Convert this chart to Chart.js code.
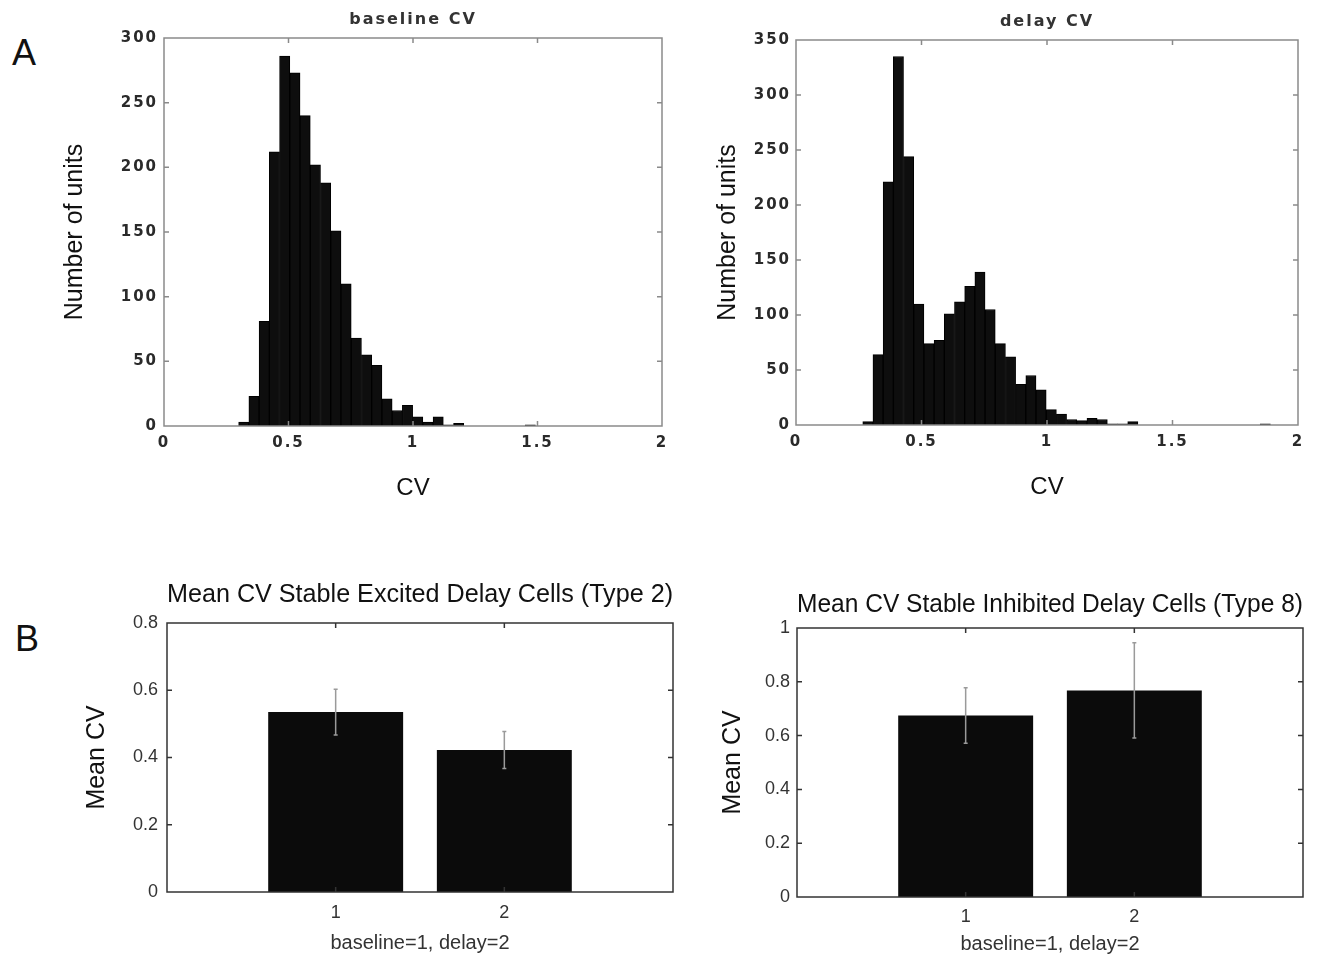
<!DOCTYPE html>
<html lang="en">
<head>
<meta charset="UTF-8" />
<title>CV distributions, baseline vs delay</title>
<style>
  body { margin: 0; background: #fff; }
  .figure { position: relative; width: 1336px; height: 956px; overflow: hidden; background: #fff; }
  .figure canvas { position: absolute; }
  .panel-letter {
    position: absolute;
    font-family: 'Liberation Sans', Arial, sans-serif;
    font-size: 36px;
    color: #111;
  }
</style>
</head>
<body>
<div class="figure">
  <div class="panel-letter" style="left:12px; top:32px;">A</div>
  <div class="panel-letter" style="left:15px; top:618px;">B</div>
  <canvas id="baseline-hist" width="700" height="520" style="left:0; top:0;"></canvas>
  <canvas id="delay-hist" width="686" height="520" style="left:650px; top:0;"></canvas>
  <canvas id="excited-bars" width="700" height="411" style="left:0; top:545px;"></canvas>
  <canvas id="inhibited-bars" width="686" height="411" style="left:650px; top:545px;"></canvas>
</div>

<script src="https://cdn.jsdelivr.net/npm/chart.js"></script>
<script>
  // histogram bin centres (CV) and unit counts
  const baselineBins = [0.3203, 0.3614, 0.4025, 0.4436, 0.4847, 0.5258, 0.5669, 0.6080, 0.6491, 0.6902,
    0.7313, 0.7724, 0.8135, 0.8546, 0.8957, 0.9368, 0.9779, 1.0190, 1.0601, 1.1012, 1.1423, 1.1834, 1.4711];
  const baselineCounts = [3, 23, 81, 212, 286, 273, 240, 202, 188, 151,
    110, 68, 55, 47, 21, 12, 16, 7, 3, 7, 1, 2, 1];

  const delayBins = [0.2863, 0.3269, 0.3675, 0.4081, 0.4487, 0.4893, 0.5299, 0.5705, 0.6111, 0.6517,
    0.6923, 0.7329, 0.7735, 0.8141, 0.8547, 0.8953, 0.9359, 0.9765, 1.0171, 1.0577,
    1.0983, 1.1389, 1.1795, 1.2201, 1.2607, 1.3013, 1.3419, 1.8697];
  const delayCounts = [3, 64, 221, 335, 244, 110, 74, 77, 101, 112,
    126, 139, 105, 74, 62, 37, 45, 32, 14, 10,
    5, 4, 6, 5, 1, 1, 3, 1];

  // mean CV per condition (baseline=1, delay=2) with error half-lengths
  const conditions = [1, 2];
  const excitedMeans = [0.535, 0.422];
  const excitedErr = [0.068, 0.055];
  const inhibitedMeans = [0.675, 0.768];
  const inhibitedErr = [0.103, 0.177];

  const sansFont = "'Liberation Sans', Arial, sans-serif";
  const tickFontBold = "'DejaVu Sans', sans-serif";
  const narrowFont = "'Liberation Sans Narrow', 'Arial Narrow', 'Liberation Sans', sans-serif";

  // plain number labels: 1 rather than 1.0
  const plainNumber = v => String(Number(Number(v).toFixed(3)));

  // box around the plot area with inward tick marks on all four sides, plus optional error bars.
  // tick labels and the chart title get letter spacing; axis titles (drawn later, grid z=1) do not.
  const boxAxes = {
    id: 'boxAxes',
    beforeDraw(chart, args, opts) {
      chart.ctx.letterSpacing = opts.spacing || '0px';
    },
    afterDatasetsDraw(chart, args, opts) {
      const { ctx, chartArea: a, scales: { x, y } } = chart;
      ctx.save();
      ctx.letterSpacing = '0px';

      if (opts.err) {
        ctx.strokeStyle = '#9a9a9a';
        ctx.lineWidth = 1.5;
        chart.data.datasets[0].data.forEach((pt, i) => {
          const px = x.getPixelForValue(pt.x);
          const hi = y.getPixelForValue(pt.y + opts.err[i]);
          const lo = y.getPixelForValue(pt.y - opts.err[i]);
          ctx.beginPath();
          ctx.moveTo(px, hi); ctx.lineTo(px, lo);
          ctx.moveTo(px - 2, hi); ctx.lineTo(px + 2, hi);
          ctx.moveTo(px - 2, lo); ctx.lineTo(px + 2, lo);
          ctx.stroke();
        });
      }

      ctx.strokeStyle = opts.color;
      ctx.lineWidth = opts.width;
      ctx.strokeRect(a.left, a.top, a.right - a.left, a.bottom - a.top);

      const len = opts.len;
      ctx.beginPath();
      x.ticks.forEach(t => {
        const px = x.getPixelForValue(t.value);
        if (px <= a.left + 1 || px >= a.right - 1) return;
        ctx.moveTo(px, a.bottom); ctx.lineTo(px, a.bottom - len);
        ctx.moveTo(px, a.top); ctx.lineTo(px, a.top + len);
      });
      y.ticks.forEach(t => {
        const py = y.getPixelForValue(t.value);
        if (py <= a.top + 1 || py >= a.bottom - 1) return;
        ctx.moveTo(a.left, py); ctx.lineTo(a.left + len, py);
        ctx.moveTo(a.right, py); ctx.lineTo(a.right - len, py);
      });
      ctx.stroke();
      ctx.restore();
      ctx.letterSpacing = '0px';
    }
  };

  function histogram(id, title, bins, counts, yMax, L) {
    new Chart(document.getElementById(id), {
      type: 'bar',
      data: {
        datasets: [{
          data: bins.map((b, i) => ({ x: b, y: counts[i] })),
          backgroundColor: '#0e0e0e',
          borderColor: '#000',
          borderWidth: 1,
          barPercentage: 1,
          categoryPercentage: 1
        }]
      },
      options: {
        responsive: false,
        animation: false,
        events: [],
        layout: { padding: { left: 0, right: L.padRight, top: 0, bottom: 0 } },
        plugins: {
          legend: { display: false },
          tooltip: { enabled: false },
          title: {
            display: true,
            text: title,
            fullSize: false,
            color: '#333',
            font: { family: tickFontBold, size: 16, weight: 'bold', lineHeight: 1.2 },
            padding: { top: L.titleTop, bottom: L.titleBottom }
          },
          boxAxes: { color: '#8a8a8a', width: 1.5, len: 5, spacing: '2px' }
        },
        scales: {
          x: {
            type: 'linear',
            min: 0, max: 2,
            offset: false,
            grid: { display: false, drawTicks: false, offset: false, z: 1 },
            border: { display: false },
            ticks: {
              stepSize: 0.5,
              padding: 8,
              maxRotation: 0,
              color: '#2a2a2a',
              callback: plainNumber,
              font: { family: tickFontBold, size: 15, weight: 'bold', lineHeight: 1.2 }
            },
            title: {
              display: true,
              text: 'CV',
              color: '#111',
              font: { family: sansFont, size: 24, lineHeight: 1.2 },
              padding: { top: 0, bottom: L.xTitlePad }
            },
            afterFit: s => { s.height = L.xHeight; }
          },
          y: {
            min: 0, max: yMax,
            grid: { display: false, drawTicks: false, z: 1 },
            border: { display: false },
            ticks: {
              stepSize: 50,
              padding: L.yTickPad,
              color: '#2a2a2a',
              callback: plainNumber,
              font: { family: tickFontBold, size: 15, weight: 'bold', lineHeight: 1.2 }
            },
            title: {
              display: true,
              text: 'Number of units',
              color: '#111',
              font: { family: sansFont, size: 25, lineHeight: 1.2 },
              padding: { top: L.yTitlePad, bottom: 0 }
            },
            afterFit: s => { s.width = L.yWidth; }
          }
        }
      },
      plugins: [boxAxes]
    });
  }

  function meanBars(id, title, means, err, yMax, L) {
    new Chart(document.getElementById(id), {
      type: 'bar',
      data: {
        datasets: [{
          data: conditions.map((c, i) => ({ x: c, y: means[i] })),
          backgroundColor: '#0b0b0b',
          borderWidth: 0,
          barPercentage: 0.8,
          categoryPercentage: 1
        }]
      },
      options: {
        responsive: false,
        animation: false,
        events: [],
        layout: { padding: { left: 0, right: L.padRight, top: 0, bottom: 0 } },
        plugins: {
          legend: { display: false },
          tooltip: { enabled: false },
          title: {
            display: true,
            text: title,
            fullSize: false,
            color: '#111',
            font: { family: sansFont, size: 26, weight: 'normal', lineHeight: 1.2 },
            padding: { top: L.titleTop, bottom: L.titleBottom }
          },
          boxAxes: { color: '#333', width: 1.5, len: 5, err: err }
        },
        scales: {
          x: {
            type: 'linear',
            min: 0, max: 3,
            offset: false,
            grid: { display: false, drawTicks: false, offset: false },
            border: { display: false },
            afterBuildTicks: s => { s.ticks = conditions.map(v => ({ value: v })); },
            ticks: {
              padding: L.xTickPad,
              maxRotation: 0,
              color: '#333',
              callback: plainNumber,
              font: { family: narrowFont, size: 18, lineHeight: 1.2 }
            },
            title: {
              display: true,
              text: 'baseline=1, delay=2',
              color: '#333',
              font: { family: narrowFont, size: 20, lineHeight: 1.2 },
              padding: { top: 0, bottom: L.xTitlePad }
            },
            afterFit: s => { s.height = L.xHeight; }
          },
          y: {
            min: 0, max: yMax,
            grid: { display: false, drawTicks: false },
            border: { display: false },
            ticks: {
              stepSize: 0.2,
              padding: L.yTickPad,
              color: '#333',
              callback: plainNumber,
              font: { family: narrowFont, size: 18, lineHeight: 1.2 }
            },
            title: {
              display: true,
              text: 'Mean CV',
              color: '#111',
              font: { family: sansFont, size: 25, lineHeight: 1.2 },
              padding: { top: L.yTitlePad, bottom: 0 }
            },
            afterFit: s => { s.width = L.yWidth; }
          }
        }
      },
      plugins: [boxAxes]
    });
  }

  histogram('baseline-hist', 'baseline CV', baselineBins, baselineCounts, 300, {
    padRight: 38, titleTop: 10.4, titleBottom: 8.4,
    yWidth: 164, yTitlePad: 60, yTickPad: 6,
    xHeight: 94, xTitlePad: 17.6
  });

  histogram('delay-hist', 'delay CV', delayBins, delayCounts, 350, {
    padRight: 38, titleTop: 12.4, titleBottom: 8.4,
    yWidth: 146, yTitlePad: 63, yTickPad: 5,
    xHeight: 95, xTitlePad: 18.6
  });

  meanBars('excited-bars', 'Mean CV Stable Excited Delay Cells (Type 2)', excitedMeans, excitedErr, 0.8, {
    padRight: 27, titleTop: 34.4, titleBottom: 12.4,
    yWidth: 167, yTitlePad: 82, yTickPad: 9,
    xHeight: 64, xTickPad: 10, xTitlePad: 1
  });

  meanBars('inhibited-bars', 'Mean CV Stable Inhibited Delay Cells (Type 8)', inhibitedMeans, inhibitedErr, 1, {
    padRight: 33, titleTop: 44.4, titleBottom: 7.4,
    yWidth: 147, yTitlePad: 68, yTickPad: 7,
    xHeight: 59, xTickPad: 9, xTitlePad: 0
  });
</script>
</body>
</html>
